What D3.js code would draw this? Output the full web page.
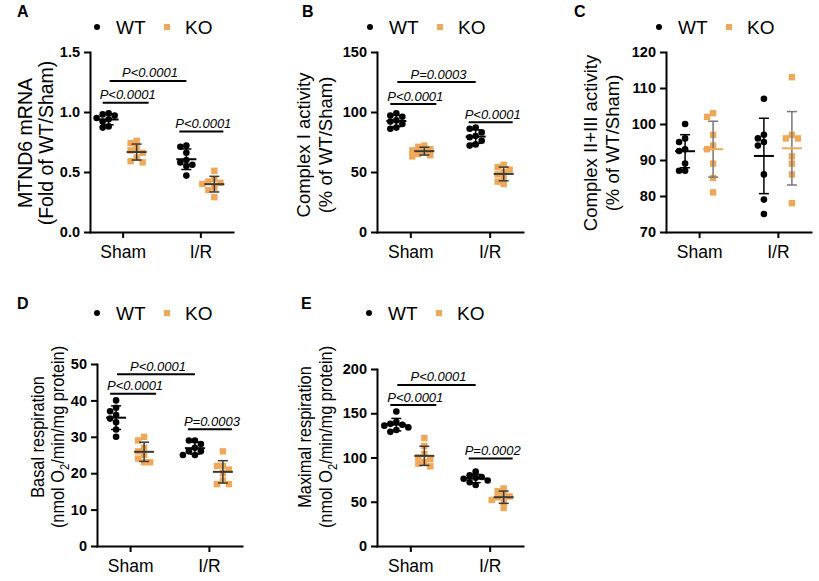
<!DOCTYPE html>
<html>
<head>
<meta charset="utf-8">
<script src="https://cdn.jsdelivr.net/npm/d3@7"></script>
<style>
  body { margin: 0; background: #fff; }
  svg { display: block; font-family: "Liberation Sans", Arial, Helvetica, sans-serif; }
</style>
</head>
<body>
<div id="chart"></div>
<script>
// ---- data ----
const groups = ["Sham", "I/R"];
const seriesNames = ["WT", "KO"];

// A  MTND6 mRNA
const mtnd6WT = [[0.99, 0.98, 0.97, 0.95, 0.94, 0.92, 0.88, 0.87], [0.72, 0.71, 0.66, 0.60, 0.58, 0.56, 0.55, 0.47]];
const mtnd6KO = [[0.76, 0.74, 0.70, 0.68, 0.66, 0.62, 0.59, 0.58], [0.51, 0.44, 0.42, 0.41, 0.40, 0.37, 0.35, 0.29]];
const mtnd6Ticks = [0, 0.5, 1.0, 1.5];
const mtnd6Sig = [["sham", "P<0.0001", 1.078], ["wt", "P<0.0001", 1.259], ["ir", "P<0.0001", 0.837]];

// B  Complex I activity
const cx1WT = [[99, 97, 96, 93, 92, 90, 87, 86], [87, 86, 83, 80, 79, 76, 73, 72]];
const cx1KO = [[72, 71, 69, 68, 67, 65, 64, 63], [56, 54, 52, 50, 48, 45, 42, 40]];
const cx1Ticks = [0, 50, 100, 150];
const cx1Sig = [["sham", "P<0.0001", 106.6], ["wt", "P=0.0003", 125], ["ir", "P<0.0001", 91.4]];

// C  Complex II+III activity
const cx23WT = [[100, 96, 95, 93, 92.5, 89, 87, 87], [107, 97, 96, 95, 94, 86, 79, 75]];
const cx23KO = [[103, 102, 97, 94, 93, 89, 85, 81], [113, 97, 96, 96, 91, 89, 86, 78]];
const cx23Ticks = [70, 80, 90, 100, 110, 120];
const cx23Sig = [];

// D  Basal respiration
const basalWT = [[40, 38, 37, 36, 35, 34, 32, 30], [29, 29, 28, 27, 26, 26, 25, 25]];
const basalKO = [[30, 29, 27, 26, 25, 24, 23, 23], [26, 22, 22, 21, 20, 18, 17, 17]];
const basalTicks = [0, 10, 20, 30, 40, 50];
const basalSig = [["sham", "P<0.0001", 41.8], ["wt", "P<0.0001", 47.2], ["ir", "P=0.0003", 32.1]];

// E  Maximal respiration
const maxWT = [[152, 140, 138, 137, 136, 134, 131, 129], [84, 80, 78, 77, 76, 74, 72, 69]];
const maxKO = [[122, 113, 104, 100, 98, 95, 93, 90], [65, 62, 58, 56, 55, 52, 50, 43]];
const maxTicks = [0, 50, 100, 150, 200];
const maxSig = [["sham", "P<0.0001", 159.3], ["wt", "P<0.0001", 182], ["ir", "P=0.0002", 99]];

const orange = "#EFA758";

const panels = [
  { letter: "A", wt: mtnd6WT, ko: mtnd6KO, ticks: mtnd6Ticks, domain: [0, 1.5], fmt: ".1f", sig: mtnd6Sig,
    label: ["MTND6 mRNA", "(Fold of WT/Sham)"], labelSize: 19.5, labelGap: 21, labelSquash: 1,
    axisX: 90, xEnd: 233, yTop: 52, yBottom: 232, legendX: 97, legendY: 27, letterX: 17, letterY: 17, labelX: 32, labelY: 143 },
  { letter: "B", wt: cx1WT, ko: cx1KO, ticks: cx1Ticks, domain: [0, 150], fmt: "d", sig: cx1Sig,
    label: ["Complex I activity", "(% of WT/Sham)"], labelSize: 18.5, labelGap: 22, labelSquash: 1,
    axisX: 377, xEnd: 523, yTop: 52, yBottom: 232, legendX: 370, legendY: 27, letterX: 302, letterY: 17, labelX: 310, labelY: 145 },
  { letter: "C", wt: cx23WT, ko: cx23KO, ticks: cx23Ticks, domain: [70, 120], fmt: "d", sig: cx23Sig,
    label: ["Complex II+III activity", "(% of WT/Sham)"], labelSize: 18.5, labelGap: 22, labelSquash: 1, scatterStyle: true,
    axisX: 666, xEnd: 811, yTop: 52, yBottom: 232, legendX: 659, legendY: 27, letterX: 574, letterY: 17, labelX: 597, labelY: 143 },
  { letter: "D", wt: basalWT, ko: basalKO, ticks: basalTicks, domain: [0, 50], fmt: "d", sig: basalSig,
    label: ["Basal respiration", "O2"], labelSize: 19, labelGap: 20, labelSquash: 0.86,
    axisX: 97, xEnd: 242, yTop: 364, yBottom: 546, legendX: 97, legendY: 313, letterX: 17, letterY: 309, labelX: 44, labelY: 437 },
  { letter: "E", wt: maxWT, ko: maxKO, ticks: maxTicks, domain: [0, 200], fmt: "d", sig: maxSig,
    label: ["Maximal respiration", "O2"], labelSize: 19, labelGap: 21, labelSquash: 0.86,
    axisX: 377, xEnd: 523, yTop: 369, yBottom: 546, legendX: 369, legendY: 313, letterX: 301, letterY: 309, labelX: 311, labelY: 437 }
];

const svg = d3.select("#chart").append("svg")
  .attr("width", 819)
  .attr("height", 581);

// simple beeswarm so close points spread sideways
function swarm(vals, y, cx, r, step) {
  const placed = [];
  vals.slice().sort((a, b) => b - a).forEach(v => {
    const py = y(v);
    for (let k = 0; k < 30; k++) {
      const off = k === 0 ? 0 : (k % 2 ? -1 : 1) * Math.ceil(k / 2) * step;
      const px = cx + off;
      if (placed.every(p => Math.hypot(p.x - px, p.y - py) >= r * 1.8)) {
        placed.push({ x: px, y: py, v });
        break;
      }
    }
  });
  return placed;
}

function drawPanel(p) {
  const g = svg.append("g");

  const y = d3.scaleLinear().domain(p.domain).range([p.yBottom, p.yTop]);
  const x = d3.scalePoint().domain(groups).range([p.axisX, p.xEnd]).padding(0.42);
  const off = 14;

  // panel letter
  g.append("text")
    .attr("x", p.letterX).attr("y", p.letterY)
    .style("font-size", "16px").style("font-weight", "bold")
    .text(p.letter);

  // legend
  const lg = g.append("g").attr("transform", `translate(${p.legendX},${p.legendY})`);
  lg.append("circle").attr("cx", 0).attr("cy", 0).attr("r", 3).attr("fill", "#000");
  lg.append("text").attr("x", 19).attr("y", 7).style("font-size", "19px").text(seriesNames[0]);
  lg.append("rect").attr("x", 67).attr("y", -3).attr("width", 6).attr("height", 6).attr("fill", orange);
  lg.append("text").attr("x", 88).attr("y", 7).style("font-size", "19px").text(seriesNames[1]);

  // y label (two lines, rotated)
  const fs = p.labelSize + "px";
  const yl = g.append("g")
    .attr("transform", `translate(${p.labelX},${p.labelY}) rotate(-90) scale(${p.labelSquash},1)`);
  yl.append("text").attr("text-anchor", "middle").attr("y", 0)
    .style("font-size", fs).text(p.label[0]);
  const l2 = yl.append("text").attr("text-anchor", "middle").attr("y", p.labelGap).style("font-size", fs);
  if (p.label[1] === "O2") {
    l2.append("tspan").text("(nmol O");
    l2.append("tspan").attr("dy", 5).style("font-size", "13px").text("2");
    l2.append("tspan").attr("dy", -5).text("/min/mg protein)");
  } else {
    l2.text(p.label[1]);
  }

  // axes
  const yAxis = g.append("g")
    .attr("transform", `translate(${p.axisX},0)`)
    .call(d3.axisLeft(y).tickValues(p.ticks).tickFormat(d3.format(p.fmt)).tickSize(6).tickSizeOuter(0).tickPadding(4));
  yAxis.selectAll("text").style("font-size", "14.5px").style("font-weight", "bold").attr("fill", "#000");

  const xAxis = g.append("g")
    .attr("transform", `translate(0,${p.yBottom})`)
    .call(d3.axisBottom(x).tickSize(6).tickSizeOuter(0).tickPadding(7.5));
  xAxis.selectAll("text").style("font-size", "17.5px").attr("fill", "#000");

  [yAxis, xAxis].forEach(a => {
    a.select(".domain").attr("stroke", "#000").attr("stroke-width", 2).attr("stroke-linecap", "square");
    a.selectAll(".tick line").attr("stroke", "#000").attr("stroke-width", 2);
  });

  // points + mean ± SD
  groups.forEach((grp, gi) => {
    [p.wt, p.ko].forEach((series, si) => {
      const vals = series[gi];
      const cx = x(grp) + (si === 0 ? -off : off);
      const pts = swarm(vals, y, cx, 3.3, 6);
      if (si === 0) {
        g.append("g").selectAll("circle").data(pts).join("circle")
          .attr("cx", d => d.x).attr("cy", d => d.y).attr("r", 3.3).attr("fill", "#000");
      } else {
        g.append("g").selectAll("rect").data(pts).join("rect")
          .attr("x", d => d.x - 3.2).attr("y", d => d.y - 3.2)
          .attr("width", 6.4).attr("height", 6.4).attr("fill", orange);
      }

      const m = d3.mean(vals);
      const sd = d3.deviation(vals);
      let whisk = si === 0 ? "#000" : "#3a3a3a";
      let meanCol = whisk;
      if (p.scatterStyle && si === 1) { whisk = "#777"; meanCol = orange; }
      const eb = g.append("g");
      eb.append("line").attr("x1", cx).attr("x2", cx).attr("y1", y(m + sd)).attr("y2", y(m - sd))
        .attr("stroke", whisk).attr("stroke-width", 1.5);
      [m + sd, m - sd].forEach(v => {
        eb.append("line").attr("x1", cx - 5).attr("x2", cx + 5).attr("y1", y(v)).attr("y2", y(v))
          .attr("stroke", whisk).attr("stroke-width", 1.5);
      });
      eb.append("line").attr("x1", cx - 10).attr("x2", cx + 10).attr("y1", y(m)).attr("y2", y(m))
        .attr("stroke", meanCol).attr("stroke-width", 2);
    });
  });

  // significance bars
  p.sig.forEach(([kind, txt, level]) => {
    let x1, x2;
    if (kind === "sham") { x1 = x("Sham") - 20; x2 = x("Sham") + 26; }
    else if (kind === "ir") { x1 = x("I/R") - 21; x2 = x("I/R") + 23; }
    else { x1 = x("Sham") - 13; x2 = x("I/R") - 14; }
    const yy = y(level);
    g.append("line").attr("x1", x1).attr("x2", x2).attr("y1", yy).attr("y2", yy)
      .attr("stroke", "#000").attr("stroke-width", 2);
    g.append("text").attr("x", (x1 + x2) / 2 + 2).attr("y", yy - 3.5)
      .attr("text-anchor", "middle")
      .style("font-size", "13px").style("font-style", "italic")
      .text(txt);
  });
}

panels.forEach(drawPanel);
</script>
</body>
</html>
